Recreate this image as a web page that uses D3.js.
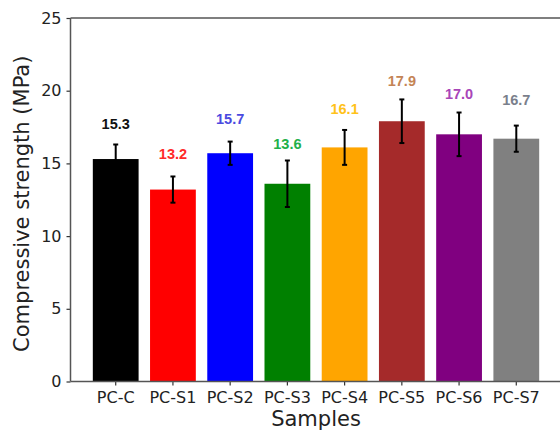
<!DOCTYPE html>
<html>
<head>
<meta charset="utf-8">
<script src="https://cdn.jsdelivr.net/npm/d3@7"></script>
<style>
  html, body { margin: 0; padding: 0; background: #fff; }
  svg { display: block; }
</style>
</head>
<body>
<div id="chart"></div>
<script>
// data
const samples = ['PC-C', 'PC-S1', 'PC-S2', 'PC-S3', 'PC-S4', 'PC-S5', 'PC-S6', 'PC-S7'];
const strength = [15.3, 13.2, 15.7, 13.6, 16.1, 17.9, 17.0, 16.7];
const stdDev = [1.0, 0.9, 0.8, 1.6, 1.2, 1.5, 1.5, 0.9];
const labelAt = [17.4, 15.3, 17.7, 16.0, 18.4, 20.3, 19.4, 19.0];
const barColors = ['#000000', '#ff0000', '#0000ff', '#008000', '#ffa500', '#a52a2a', '#800080', '#808080'];
const labelColors = ['#111111', '#ff2a2a', '#4a4ae0', '#22b04a', '#ffc21a', '#c48455', '#a845b8', '#7a7f8c'];
const yTicks = [0, 5, 10, 15, 20, 25];

const width = 560, height = 432;
const plot = { left: 70.5, right: 561.5, top: 18, bottom: 381.5 };

const svg = d3.select('#chart').append('svg')
  .attr('width', width).attr('height', height);

const x = d3.scaleBand().domain(samples)
  .range([plot.left, plot.right])
  .paddingInner(0.2).paddingOuter(0.39);

const y = d3.scaleLinear().domain([0, 25]).range([plot.bottom, plot.top]);

const rows = samples.map((s, i) => ({
  name: s, v: strength[i], err: stdDev[i], lab: labelAt[i],
  fill: barColors[i], txt: labelColors[i]
}));

// bars
svg.append('g').selectAll('rect')
  .data(rows).join('rect')
  .attr('x', d => x(d.name))
  .attr('width', x.bandwidth())
  .attr('y', d => y(d.v))
  .attr('height', d => y(0) - y(d.v))
  .attr('fill', d => d.fill);

// error bars
const eb = svg.append('g').selectAll('g')
  .data(rows).join('g')
  .attr('transform', d => `translate(${x(d.name) + x.bandwidth() / 2},0)`)
  .attr('stroke', '#000').attr('stroke-width', 2);
eb.append('line').attr('y1', d => y(d.v - d.err)).attr('y2', d => y(d.v + d.err));
eb.append('line').attr('x1', -2.5).attr('x2', 2.5).attr('y1', d => y(d.v + d.err)).attr('y2', d => y(d.v + d.err));
eb.append('line').attr('x1', -2.5).attr('x2', 2.5).attr('y1', d => y(d.v - d.err)).attr('y2', d => y(d.v - d.err));

// value labels
svg.append('g').selectAll('text')
  .data(rows).join('text')
  .attr('x', d => x(d.name) + x.bandwidth() / 2)
  .attr('y', d => y(d.lab))
  .attr('text-anchor', 'middle')
  .attr('font-family', '"Liberation Sans", Arial, sans-serif')
  .attr('font-weight', 'bold').attr('font-size', '14.5px')
  .attr('fill', d => d.txt)
  .text(d => d.v.toFixed(1));

// axes
const yAxis = svg.append('g')
  .attr('transform', `translate(${plot.left},0)`)
  .call(d3.axisLeft(y).tickValues(yTicks).tickSize(4).tickPadding(5));
const xAxis = svg.append('g')
  .attr('transform', `translate(0,${plot.bottom})`)
  .call(d3.axisBottom(x).tickSize(4).tickPadding(6));

[yAxis, xAxis].forEach(a => {
  a.select('.domain').remove();
  a.selectAll('line').attr('stroke', '#333').attr('stroke-width', 1.2);
  a.selectAll('text')
    .attr('font-family', '"DejaVu Sans", sans-serif')
    .attr('font-size', '16px').attr('fill', '#222');
});

// spines: left, bottom, top (right is outside the frame)
const spine = svg.append('g').attr('stroke', '#555').attr('stroke-width', 1.5).attr('fill', 'none');
spine.append('line').attr('x1', plot.left).attr('x2', plot.left).attr('y1', plot.top).attr('y2', plot.bottom);
spine.append('line').attr('x1', plot.left).attr('x2', width).attr('y1', plot.bottom).attr('y2', plot.bottom);
spine.append('line').attr('x1', plot.left).attr('x2', width).attr('y1', plot.top).attr('y2', plot.top);

// axis titles
svg.append('text')
  .attr('x', (plot.left + plot.right) / 2).attr('y', 426)
  .attr('text-anchor', 'middle')
  .attr('font-family', '"DejaVu Sans", sans-serif').attr('font-size', '21px')
  .attr('fill', '#222')
  .text('Samples');

svg.append('text')
  .attr('transform', `translate(28.5,${(plot.top + plot.bottom) / 2 + 4}) rotate(-90)`)
  .attr('text-anchor', 'middle')
  .attr('font-family', '"DejaVu Sans", sans-serif').attr('font-size', '21px')
  .attr('fill', '#222')
  .text('Compressive strength (MPa)');
</script>
</body>
</html>
